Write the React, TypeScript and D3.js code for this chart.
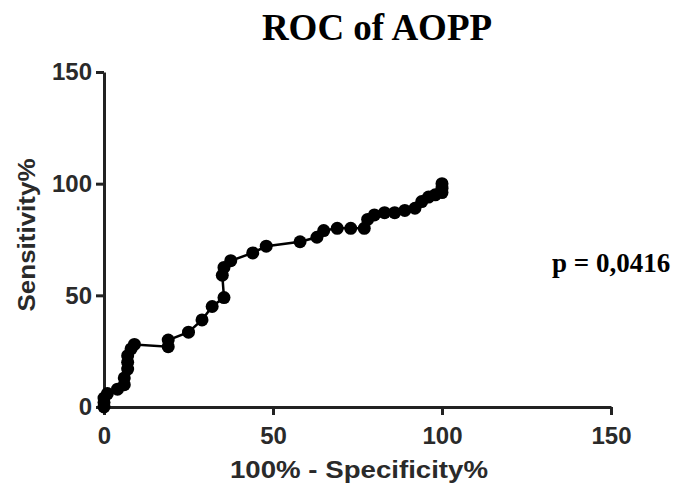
import React, { useEffect, useRef } from 'react';
import * as d3 from 'd3';

// ROC points: 100% - Specificity% (x) and Sensitivity% (y)
const fpr = [0, 0, 0, 1, 4, 6, 6, 7, 7, 7, 8, 9, 19, 19, 25, 29, 32, 35.5, 35, 35.5, 37.5, 44, 48, 58, 63, 65, 69, 73, 77, 78, 80, 83, 86, 89, 92, 94, 96, 98, 100, 100, 100];
const sens = [0, 2, 4, 6, 8, 10, 13, 17, 20, 23, 26, 28, 27, 30, 33.5, 39, 45, 49, 59, 62.5, 65.5, 69, 72, 74, 76, 79, 80, 80, 80, 84, 86, 87, 87, 88, 89, 92, 94, 95, 96, 98, 100];

const xTicks = [0, 50, 100, 150];
const yTicks = [0, 50, 100, 150];

const title = 'ROC of AOPP';
const xTitle = '100% - Specificity%';
const yTitle = 'Sensitivity%';
const pLabel = 'p = 0,0416';

const width = 683;
const height = 490;

const App = () => {
  const svgRef = useRef<SVGSVGElement>(null);

  useEffect(() => {
    const svg = d3.select(svgRef.current);
    svg.selectAll('*').remove();

    const x = d3.scaleLinear().domain([0, 150]).range([104, 611]);
    const y = d3.scaleLinear().domain([0, 150]).range([407, 72]);

    // Title
    svg
      .append('text')
      .attr('x', 377)
      .attr('y', 40)
      .attr('text-anchor', 'middle')
      .style('font-family', '"Liberation Serif", "Times New Roman", serif')
      .style('font-weight', 'bold')
      .style('font-size', '37px')
      .text(title);

    // Axes
    const tickFont = (g: any) => {
      g.selectAll('text')
        .style('font-family', '"Liberation Sans", Arial, sans-serif')
        .style('font-weight', 'bold')
        .style('font-size', '24px')
        .attr('fill', '#2a2a2a');
      g.selectAll('line').attr('stroke', '#222').attr('stroke-width', 3);
      g.select('.domain').attr('stroke', '#222').attr('stroke-width', 3);
    };

    svg
      .append('g')
      .attr('transform', 'translate(104,0)')
      .call(d3.axisLeft(y).tickValues(yTicks).tickSize(8).tickSizeOuter(0).tickPadding(4))
      .call(tickFont);

    svg
      .append('g')
      .attr('transform', 'translate(0,407)')
      .call(d3.axisBottom(x).tickValues(xTicks).tickSize(8).tickSizeOuter(0).tickPadding(12))
      .call(tickFont);

    // Axis titles
    svg
      .append('text')
      .attr('x', 359)
      .attr('y', 478)
      .attr('text-anchor', 'middle')
      .attr('textLength', 258)
      .attr('lengthAdjust', 'spacingAndGlyphs')
      .style('font-family', '"Liberation Sans", Arial, sans-serif')
      .style('font-weight', 'bold')
      .style('font-size', '24px')
      .attr('fill', '#2a2a2a')
      .text(xTitle);

    svg
      .append('text')
      .attr('transform', 'translate(35,235) rotate(-90)')
      .attr('text-anchor', 'middle')
      .attr('textLength', 153)
      .attr('lengthAdjust', 'spacingAndGlyphs')
      .style('font-family', '"Liberation Sans", Arial, sans-serif')
      .style('font-weight', 'bold')
      .style('font-size', '24px')
      .attr('fill', '#2a2a2a')
      .text(yTitle);

    // ROC line and markers
    const points = fpr.map((v, i) => [v, sens[i]] as [number, number]);
    const line = d3
      .line<[number, number]>()
      .x((d) => x(d[0]))
      .y((d) => y(d[1]));

    svg
      .append('path')
      .datum(points)
      .attr('d', line)
      .attr('fill', 'none')
      .attr('stroke', '#000')
      .attr('stroke-width', 2.5);

    svg
      .append('g')
      .selectAll('circle')
      .data(points)
      .enter()
      .append('circle')
      .attr('cx', (d) => x(d[0]))
      .attr('cy', (d) => y(d[1]))
      .attr('r', 6.5)
      .attr('fill', '#000');

    // p-value
    svg
      .append('text')
      .attr('x', 552)
      .attr('y', 272)
      .style('font-family', '"Liberation Serif", "Times New Roman", serif')
      .style('font-weight', 'bold')
      .style('font-size', '27px')
      .text(pLabel);
  }, []);

  return (
    <svg
      ref={svgRef}
      width={width}
      height={height}
      style={{ position: 'absolute', left: 0, top: 0, background: '#fff' }}
    />
  );
};

export default App;
